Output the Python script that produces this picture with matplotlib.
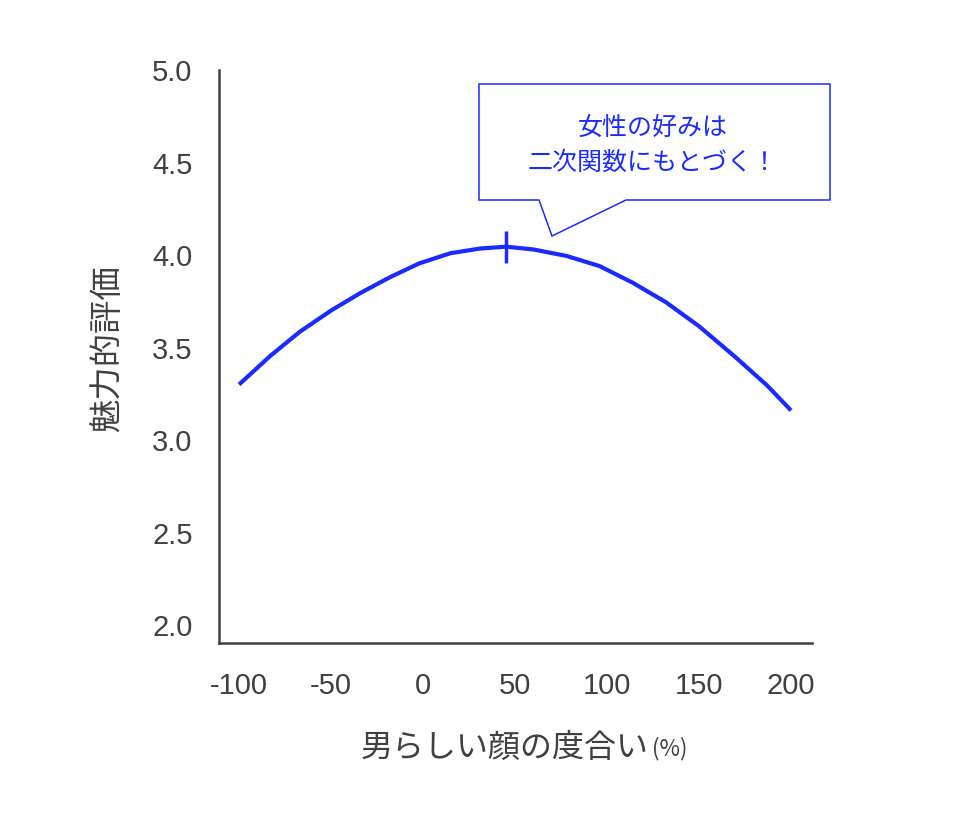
import matplotlib.pyplot as plt
from matplotlib.patches import Polygon

plt.rcParams['font.family'] = ['Liberation Sans', 'Noto Sans CJK JP', 'DejaVu Sans']

# values
masculinity = [-100, -83, -67, -50, -34, -18, -2, 15, 31, 45, 60, 78, 96, 114, 132, 150, 169, 187, 200]
rating = [3.30, 3.455, 3.585, 3.70, 3.795, 3.88, 3.955, 4.01, 4.035, 4.045, 4.03, 3.995,
          3.94, 3.85, 3.745, 3.615, 3.455, 3.295, 3.16]
peak_x = 45
peak_y = 4.045

xticks = [-100, -50, 0, 50, 100, 150, 200]
xticklabels = ['-100', '-50', '0', '50', '100', '150', '200']
yticks = [2.0, 2.5, 3.0, 3.5, 4.0, 4.5, 5.0]
yticklabels = ['2.0', '2.5', '3.0', '3.5', '4.0', '4.5', '5.0']

blue = '#1a2bff'
gray = '#404040'
W, H = 954, 814

fig = plt.figure(figsize=(W / 100, H / 100), dpi=100)
ax = fig.add_axes([219 / W, 1 - 643 / H, (812 - 219) / W, (643 - 70) / H])

ax.plot(masculinity, rating, color=blue, lw=3, solid_capstyle='butt', solid_joinstyle='round')
ax.plot([peak_x], [peak_y], marker='|', color=blue, markersize=23, markeredgewidth=2.5)

ax.set_xlim(-110.9, 211.4)
ax.set_ylim(1.903, 5.0)
ax.set_xticks(xticks)
ax.set_xticklabels(xticklabels)
ax.set_yticks(yticks)
ax.set_yticklabels(yticklabels)
ax.tick_params(axis='x', length=0, pad=21, labelsize=21, labelcolor=gray)
ax.tick_params(axis='y', length=0, pad=19, labelsize=21, labelcolor=gray)
for s in ['top', 'right']:
    ax.spines[s].set_visible(False)
for s in ['left', 'bottom']:
    ax.spines[s].set_color(gray)
    ax.spines[s].set_linewidth(1.8)

# axis labels
fig.text(108 / W, 1 - 349 / H, '魅力的評価', rotation=90, ha='center', va='center',
         fontsize=24, color=gray, family=['Noto Sans CJK JP'])
xl = fig.text(505 / W, 1 - 748 / H, '男らしい顔の度合い', ha='center', va='center',
              fontsize=23, color=gray, family=['Noto Sans CJK JP'])
ax.annotate('(%)', xy=(1, 0.12), xycoords=xl, xytext=(2, 0), textcoords='offset points',
            ha='left', va='bottom', fontsize=16, color=gray, family=['Noto Sans CJK JP'],
            annotation_clip=False)

# speech-bubble callout
pts = [(479, 84), (830, 84), (830, 200), (626, 200), (552, 236), (539, 200), (479, 200)]
bubble = Polygon([(x / W, 1 - y / H) for x, y in pts], closed=True, transform=fig.transFigure,
                 facecolor='white', edgecolor=blue, lw=1.1, clip_on=False)
fig.patches.append(bubble)
fig.text(653 / W, 1 - 145 / H, '女性の好みは\n二次関数にもとづく！', ha='center', va='center',
         fontsize=18, color=blue, linespacing=1.45, family=['Noto Sans CJK JP'])

fig.savefig('out.png', dpi=100)
